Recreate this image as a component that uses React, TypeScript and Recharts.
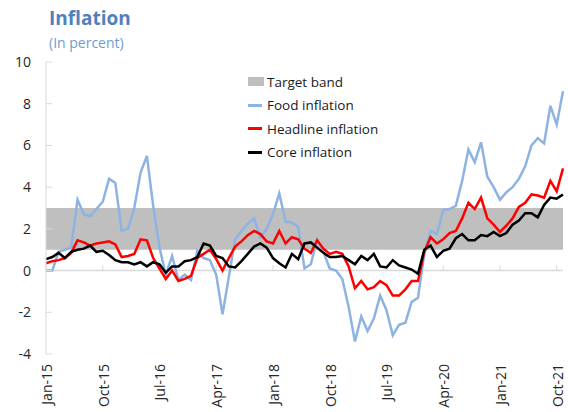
import { ComposedChart, Line, XAxis, YAxis, ReferenceArea, ReferenceLine, Legend } from "recharts";

const FONT = "'Open Sans', 'Noto Sans', sans-serif";

// month names and first year used for the category labels (Jan-15 .. Nov-21)
const MONTHS = ["Jan", "Feb", "Mar", "Apr", "May", "Jun", "Jul", "Aug", "Sep", "Oct", "Nov", "Dec"];
const FIRST_YEAR = 15;

// values, one per month
const food = [
  0.0, 0.0, 0.9, 1.0, 1.1, 3.4, 2.7, 2.6, 2.95, 3.3, 4.4, 4.2,
  1.9, 2.0, 3.0, 4.7, 5.5, 3.1, 1.1, -0.2, 0.7, -0.45, -0.2, -0.45,
  0.95, 0.6, 0.5, -0.2, -2.1, -0.3, 1.5, 1.9, 2.25, 2.5, 1.6, 2.0,
  2.7, 3.7, 2.35, 2.3, 2.1, 0.1, 0.3, 1.5, 0.9, 0.1, 0.0, -0.4,
  -1.75, -3.4, -2.2, -2.9, -2.3, -1.2, -1.9, -3.1, -2.6, -2.5, -1.5, -1.3,
  0.8, 1.9, 1.75, 2.9, 2.95, 3.1, 4.3, 5.8, 5.2, 6.15, 4.5, 4.0,
  3.4, 3.75, 4.0, 4.4, 5.0, 6.0, 6.35, 6.1, 7.9, 7.0, 8.6,
];
const headline = [
  0.35, 0.45, 0.5, 0.6, 0.85, 1.45, 1.35, 1.2, 1.3, 1.35, 1.4, 1.25,
  0.65, 0.7, 0.8, 1.5, 1.45, 0.6, 0.1, -0.4, 0.0, -0.5, -0.4, -0.25,
  0.6, 0.8, 1.0, 0.55, 0.0, 0.6, 1.15, 1.4, 1.7, 1.9, 1.75, 1.4,
  1.3, 1.9, 1.3, 1.6, 1.5, 1.05, 0.85, 1.45, 1.05, 0.8, 0.9, 0.8,
  0.2, -0.85, -0.5, -0.9, -0.8, -0.5, -0.7, -1.2, -1.2, -0.9, -0.5, -0.5,
  0.9, 1.6, 1.3, 1.5, 1.8, 1.9, 2.5, 3.25, 2.95, 3.5, 2.5, 2.2,
  1.85, 2.15, 2.5, 3.05, 3.25, 3.65, 3.6, 3.5, 4.3, 3.8, 4.9,
];
const core = [
  0.55, 0.65, 0.85, 0.6, 0.9, 1.0, 1.05, 1.2, 0.9, 0.95, 0.75, 0.5,
  0.4, 0.4, 0.3, 0.4, 0.2, 0.4, 0.3, -0.1, 0.2, 0.2, 0.45, 0.5,
  0.65, 1.3, 1.2, 0.7, 0.6, 0.2, 0.15, 0.45, 0.8, 1.15, 1.3, 1.1,
  0.6, 0.35, 0.15, 0.8, 0.55, 1.3, 1.35, 1.1, 0.85, 0.65, 0.65, 0.7,
  0.5, 0.3, 0.7, 0.5, 0.8, 0.2, 0.15, 0.5, 0.25, 0.15, 0.05, -0.15,
  1.0, 1.2, 0.65, 0.95, 1.05, 1.55, 1.75, 1.45, 1.45, 1.7, 1.65, 1.85,
  1.65, 1.8, 2.2, 2.4, 2.75, 2.75, 2.55, 3.15, 3.5, 3.45, 3.65,
];

const targetBand = [1, 3];
const yTicks = [-4, -2, 0, 2, 4, 6, 8, 10];
const legendLabels = ["Target band", "Food inflation", "Headline inflation", "Core inflation"];
const legendColors = ["#bfbfbf", "#8db3e2", "#ff0000", "#000000"];

const months = food.map((_, i) => `${MONTHS[i % 12]}-${FIRST_YEAR + Math.floor(i / 12)}`);
const data = months.map((m, i) => ({ m, food: food[i], headline: headline[i], core: core[i] }));
// every 9th month gets a label and a small tick on the zero line
const labelled = months.filter((_, i) => i % 9 === 0);

const YTick = (props: any) => {
  const { x, y, payload } = props;
  return (
    <g>
      <line x1={x + 15} x2={x + 21} y1={y} y2={y} stroke="#d9d9d9" />
      <text x={x} y={y} dy={5} textAnchor="end" fontSize={14} fill="#262626" fontFamily={FONT}>
        {payload.value}
      </text>
    </g>
  );
};

const XTick = (props: any) => {
  const { x, y, payload } = props;
  return (
    <text
      transform={`translate(${x + 6}, ${y}) rotate(-90)`}
      textAnchor="end"
      fontSize={14}
      fill="#262626"
      fontFamily={FONT}
    >
      {payload.value}
    </text>
  );
};

const renderLegend = () => (
  <div style={{ fontFamily: FONT, fontSize: 13.5, color: "#1a1a1a" }}>
    {legendLabels.map((label, i) => (
      <div key={label} style={{ display: "flex", alignItems: "center", height: 23.5, whiteSpace: "nowrap" }}>
        {i === 0 ? (
          <span style={{ width: 16, height: 9, background: legendColors[i], marginRight: 3 }} />
        ) : (
          <span style={{ width: 14, height: 3, background: legendColors[i], marginRight: 5 }} />
        )}
        {label}
      </div>
    ))}
  </div>
);

export default function App() {
  return (
    <div style={{ position: "absolute", left: 0, top: 0, width: 568, height: 412, background: "#fff" }}>
      <div style={{ position: "absolute", left: 49, top: 8, fontFamily: FONT, fontSize: 19, lineHeight: "20px", fontWeight: 700, color: "#4f81bd" }}>
        Inflation
      </div>
      <div style={{ position: "absolute", left: 49, top: 34, fontFamily: FONT, fontSize: 14, lineHeight: "18px", color: "#6f9bd1" }}>
        (In percent)
      </div>
      <ComposedChart width={568} height={412} data={data} margin={{ top: 62, right: 5, bottom: 8, left: 0 }}>
        <ReferenceArea y1={targetBand[0]} y2={targetBand[1]} fill="#bfbfbf" fillOpacity={1} stroke="none" />
        <ReferenceLine y={0} stroke="#d9d9d9" strokeWidth={1.5} />
        {labelled.map((m) => (
          <ReferenceLine key={m} segment={[{ x: m, y: 0 }, { x: m, y: 0.25 }]} stroke="#d9d9d9" />
        ))}
        <XAxis
          dataKey="m"
          scale="point"
          padding={{ left: 0, right: 0 }}
          interval={8}
          axisLine={false}
          tickLine={false}
          tickSize={0}
          tickMargin={10}
          height={50}
          tick={<XTick />}
        />
        <YAxis
          domain={[-4, 10]}
          ticks={yTicks}
          width={46}
          axisLine={{ stroke: "#d9d9d9" }}
          tickLine={false}
          tickSize={0}
          tickMargin={15}
          tick={<YTick />}
        />
        <Legend
          layout="vertical"
          align="center"
          verticalAlign="middle"
          content={renderLegend}
          wrapperStyle={{ left: 248, top: 70, width: 170 }}
        />
        <Line dataKey="food" stroke="#8db3e2" strokeWidth={2.5} dot={false} isAnimationActive={false} />
        <Line dataKey="headline" stroke="#ff0000" strokeWidth={2.5} dot={false} isAnimationActive={false} />
        <Line dataKey="core" stroke="#000000" strokeWidth={2.5} dot={false} isAnimationActive={false} />
      </ComposedChart>
    </div>
  );
}
